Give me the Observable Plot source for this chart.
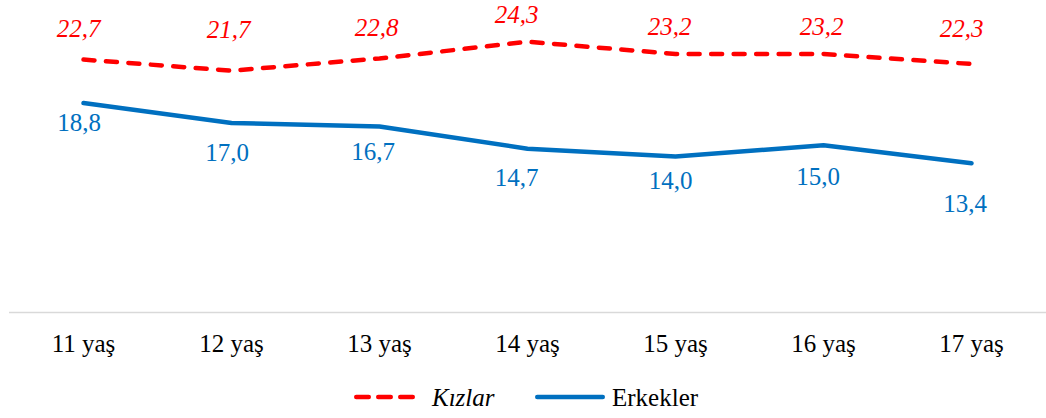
<!DOCTYPE html>
<html>
<head>
<meta charset="utf-8">
<script src="https://cdn.jsdelivr.net/npm/d3@7"></script>
<script src="https://cdn.jsdelivr.net/npm/@observablehq/plot@0.6"></script>
<style>
  html, body { margin: 0; padding: 0; background: #fff; }
  #chart { width: 1046px; }
  #legend { display: block; }
</style>
</head>
<body>
<div id="chart"></div>
<script>
// Age groups and the two series (percent)
const ages = ["11 yaş", "12 yaş", "13 yaş", "14 yaş", "15 yaş", "16 yaş", "17 yaş"];
const kizlar = [22.7, 21.7, 22.8, 24.3, 23.2, 23.2, 22.3];
const erkekler = [18.8, 17.0, 16.7, 14.7, 14.0, 15.0, 13.4];
const seriesNames = ["Kızlar", "Erkekler"];

// Label nudges in pixels, [dx, dy] per point
const kizlarNudge = [[-5, -23], [-3, -33], [-3, -22], [-11, -18.5], [-6, -18.5], [-2, -18.5], [-10, -27.5]];
const erkeklerNudge = [[-4.5, 28], [-4.5, 38], [-6.5, 34], [-11, 37], [-5, 32], [-5.5, 40], [-6.5, 49]];

const RED = "#ff0000";
const BLUE = "#0070c0";
const FONT = "'Liberation Serif', 'Times New Roman', serif";

const fmt = v => v.toFixed(1).replace(".", ",");
const idx = ages.map((_, i) => i);

function labels(values, nudge, color, italic) {
  return idx.map(i => Plot.text([i], {
    x: d => ages[d],
    y: d => values[d],
    text: d => fmt(values[d]),
    fill: color,
    fontSize: 25,
    fontStyle: italic ? "italic" : "normal",
    lineAnchor: "bottom",
    dx: nudge[i][0],
    dy: nudge[i][1]
  }));
}

const W = 1046, H = 370;

const plot = Plot.plot({
  width: W,
  height: H,
  marginLeft: 9,
  marginRight: 0,
  marginTop: 0,
  marginBottom: H - 312,
  style: { fontFamily: FONT, fontSize: "25px", background: "#fff", color: "#000" },
  x: { type: "point", domain: ages, range: [81, 972], padding: 0, axis: null },
  y: { domain: [0, 28], axis: null },
  marks: [
    Plot.ruleY([0], { stroke: "#d9d9d9", strokeWidth: 1.5 }),
    Plot.axisX({ tickSize: 0, tickPadding: 22, fontSize: 25, fill: "#000" }),
    Plot.line(idx, {
      x: i => ages[i], y: i => kizlar[i],
      stroke: RED, strokeWidth: 4.5, strokeDasharray: "11 11.5", strokeLinecap: "round", strokeLinejoin: "round"
    }),
    Plot.line(idx, {
      x: i => ages[i], y: i => erkekler[i],
      stroke: BLUE, strokeWidth: 4.5, strokeLinecap: "round", strokeLinejoin: "round"
    }),
    ...labels(kizlar, kizlarNudge, RED, true),
    ...labels(erkekler, erkeklerNudge, BLUE, false)
  ]
});
document.getElementById("chart").appendChild(plot);

// Legend under the chart
const legend = d3.create("svg")
  .attr("id", "legend")
  .attr("width", W)
  .attr("height", 48)
  .style("font-family", FONT)
  .style("font-size", "25px");

const ly = 27, ty = 36;
legend.append("line")
  .attr("x1", 356.25).attr("x2", 412.75).attr("y1", ly).attr("y2", ly)
  .attr("stroke", RED).attr("stroke-width", 4.5)
  .attr("stroke-dasharray", "12.5 9.5").attr("stroke-linecap", "round");
legend.append("text")
  .attr("x", 432).attr("y", ty)
  .attr("font-style", "italic").attr("fill", "#000")
  .text(seriesNames[0]);
legend.append("line")
  .attr("x1", 537.25).attr("x2", 602.75).attr("y1", ly).attr("y2", ly)
  .attr("stroke", BLUE).attr("stroke-width", 4.5)
  .attr("stroke-linecap", "round");
legend.append("text")
  .attr("x", 612).attr("y", ty)
  .attr("fill", "#000")
  .text(seriesNames[1]);

document.getElementById("chart").appendChild(legend.node());
</script>
</body>
</html>
